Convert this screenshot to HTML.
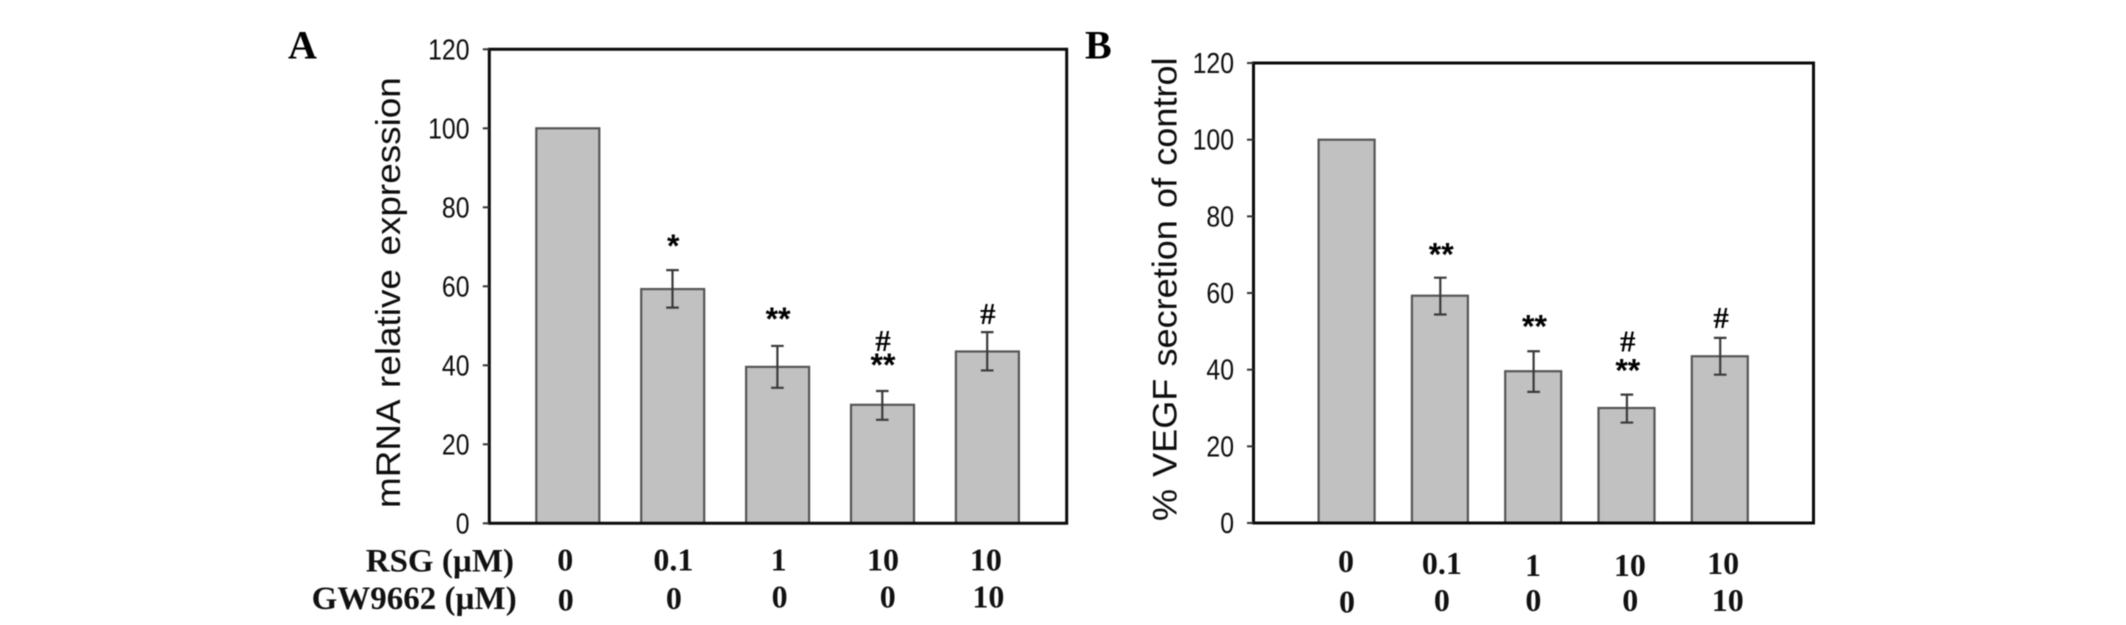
<!DOCTYPE html>
<html lang="en">
<head>
<meta charset="utf-8">
<title>RSG and GW9662 effect on mRNA expression and VEGF secretion</title>
<style>
html,body{margin:0;padding:0;background:#fff;width:2126px;height:625px;overflow:hidden}
svg{display:block;filter:blur(.6px)}
</style>
</head>
<body>
<svg id="figure" xmlns="http://www.w3.org/2000/svg" width="2126" height="625" viewBox="0 0 2126 625"></svg>
<script>
// ---- data ----
const rsgLabels = ['0', '0.1', '1', '10', '10'];
const gwLabels = ['0', '0', '0', '0', '10'];
const tickValues = [0, 20, 40, 60, 80, 100, 120];
const mrnaValues = [100, 59.3, 39.6, 30, 43.5];
const mrnaUpper = [null, 64.1, 44.9, 33.5, 48.4];
const mrnaLower = [null, 54.6, 34.3, 26.2, 38.7];
const mrnaMarks = ['', '*', '**', '**', '#'];
const mrnaHash = ['', '', '', '#', ''];
const vegfValues = [100, 59.3, 39.6, 30, 43.5];
const vegfUpper = [null, 64, 44.8, 33.5, 48.3];
const vegfLower = [null, 54.4, 34.2, 26.2, 38.7];
const vegfMarks = ['', '**', '**', '**', '#'];
const vegfHash = ['', '', '', '#', ''];

// ---- layout ----
const NS = 'http://www.w3.org/2000/svg';
const SANS = '"Liberation Sans", Arial, sans-serif';
const SERIF = '"Liberation Serif", "Times New Roman", serif';
const svg = document.getElementById('figure');

function shape(parent, tag, attrs) {
  const el = document.createElementNS(NS, tag);
  for (const k in attrs) el.setAttribute(k, attrs[k]);
  parent.appendChild(el);
  return el;
}
function label(parent, str, x, y, size, o) {
  o = o || {};
  const el = document.createElementNS(NS, 'text');
  el.textContent = str;
  el.setAttribute('font-family', o.family || SANS);
  el.setAttribute('font-size', size);
  el.setAttribute('font-weight', o.weight || 'normal');
  el.setAttribute('fill', o.fill || '#111');
  el.setAttribute('text-anchor', o.anchor || 'middle');
  if (o.ws) el.setAttribute('word-spacing', o.ws);
  el.setAttribute('transform', 'translate(' + x + ' ' + y + ') rotate(' + (o.rotate || 0) + ') scale(' + (o.sx || 1) + ' 1)');
  parent.appendChild(el);
  return el;
}

function drawPanel(cfg) {
  const g = shape(svg, 'g', {});
  
  

  const yScale = v => cfg.y0 - v * cfg.yUnit;
  const xScale = i => cfg.xStart + i * cfg.xStep;

  // panel letter
  const letter = label(g, cfg.letter, cfg.letterX, 58.3, 40, {family: SERIF, weight: 'bold', fill: '#000', anchor: 'start'});
  
  

  // bars
  cfg.values.forEach((v, i) => {
    const bar = shape(g, 'rect', {
      x: xScale(i) - cfg.barW / 2, y: yScale(v), width: cfg.barW, height: cfg.y0 - yScale(v),
      fill: '#c1c1c1', stroke: '#555', 'stroke-width': 2.2
    });
    
    
  });

  // error bars
  cfg.values.forEach((v, i) => {
    if (cfg.upper[i] === null) return;
    const cx = xScale(i) + cfg.errNudge;
    const err = shape(g, 'path', {
      d: 'M' + cx + ' ' + yScale(cfg.upper[i]) + 'V' + yScale(cfg.lower[i]) +
         'M' + (cx - 6.3) + ' ' + yScale(cfg.upper[i]) + 'h12.6' +
         'M' + (cx - 6.3) + ' ' + yScale(cfg.lower[i]) + 'h12.6',
      fill: 'none', stroke: '#3a3a3a', 'stroke-width': 2.2
    });
    
    
  });

  // plot frame
  const frame = shape(g, 'path', {
    d: 'M' + cfg.left + ' ' + yScale(120) + 'H' + cfg.right + 'V' + cfg.y0 + 'H' + cfg.left + 'Z',
    fill: 'none', stroke: '#0a0a0a', 'stroke-width': 3
  });
  
  

  // y axis ticks and labels
  tickValues.forEach(t => {
    const tick = shape(g, 'line', {
      x1: cfg.left - 6.5, x2: cfg.left, y1: yScale(t), y2: yScale(t), stroke: '#333', 'stroke-width': 2
    });
    
    
    const tl = label(g, String(t), cfg.tickRight, yScale(t) + 10, 28.5, {anchor: 'end', sx: 0.87, fill: '#0d0d0d'});
    
    
  });

  // y axis title
  const yt = label(g, cfg.yTitle, cfg.titleX, cfg.titleY, 34, {anchor: 'middle', rotate: -90, sx: cfg.titleSx, fill: '#0d0d0d', ws: cfg.titleWs});
  
  

  // significance marks
  cfg.marks.forEach((m, i) => {
    if (!m) return;
    const isHash = m === '#';
    const y = yScale(cfg.upper[i]) + cfg.markGap[i];
    const mk = label(g, m, xScale(i) + cfg.markNudge, y, isHash ? 31 : 32, {family: isHash ? SERIF : SANS, fill: '#000', weight: 'bold'});
    
    
  });
  cfg.hashes.forEach((m, i) => {
    if (!m) return;
    const y = yScale(cfg.upper[i]) + cfg.stackedHashGap;
    const mk = label(g, m, xScale(i) + cfg.markNudge, y, 31, {family: SERIF, fill: '#000', weight: 'bold'});
    
    
  });

  // category rows
  cfg.rsg.forEach((s, i) => {
    const c = label(g, s, xScale(i) + cfg.rowNudge1[i], cfg.rowY1[i], 32, {family: SERIF, weight: 'bold', fill: '#111'});
    
    
  });
  cfg.gw.forEach((s, i) => {
    const c = label(g, s, xScale(i) + cfg.rowNudge2[i], cfg.rowY2[i], 32, {family: SERIF, weight: 'bold', fill: '#111'});
    
    
  });
  return g;
}

const panelA = drawPanel({
  name: 'panel-a-mrna-chart', letter: 'A', letterX: 288,
  left: 489.3, right: 1066.7, y0: 523.3, yUnit: 3.95,
  xStart: 567.8, xStep: 104.9, barW: 63, errNudge: -0.2,
  tickRight: 469.5, yTitle: 'mRNA relative expression', titleX: 400, titleY: 292.6, titleSx: 1.085, titleWs: 3,
  values: mrnaValues, upper: mrnaUpper, lower: mrnaLower, marks: mrnaMarks, hashes: mrnaHash,
  markGap: [0, -13, -16, -15, -8], stackedHashGap: -40, markNudge: 0.5,
  rsg: rsgLabels, gw: gwLabels,
  rowNudge1: [-2.5, 0.7, 1, 0.5, -1.5], rowY1: [570.7, 570.7, 570.7, 570.7, 570.7],
  rowNudge2: [-2, 1.2, 2, 5.2, 1], rowY2: [610.5, 609, 607.7, 607.7, 607.7]
});

const panelB = drawPanel({
  name: 'panel-b-vegf-chart', letter: 'B', letterX: 1085,
  left: 1253.5, right: 1813.5, y0: 523, yUnit: 3.833,
  xStart: 1346.6, xStep: 93.3, barW: 56, errNudge: 0.4,
  tickRight: 1234, yTitle: '% VEGF secretion of control', titleX: 1176.7, titleY: 289.3, titleSx: 1.062, titleWs: 2,
  values: vegfValues, upper: vegfUpper, lower: vegfLower, marks: vegfMarks, hashes: vegfHash,
  markGap: [0, -12, -14, -13, -10], stackedHashGap: -43, markNudge: 1.3,
  rsg: rsgLabels, gw: gwLabels,
  rowNudge1: [-0.6, 2, -0.2, 3.4, 3.3], rowY1: [571.9, 574, 576, 576, 574],
  rowNudge2: [0.4, 2, 0.2, 3.7, 8], rowY2: [612.5, 611, 611, 611, 611]
});

// row captions
const rsgCaption = label(panelA, 'RSG (\u00b5M)', 514, 571.5, 33, {family: SERIF, weight: 'bold', anchor: 'end'});


const gwCaption = label(panelA, 'GW9662 (\u00b5M)', 516.7, 609, 33, {family: SERIF, weight: 'bold', anchor: 'end'});


</script>
</body>
</html>
